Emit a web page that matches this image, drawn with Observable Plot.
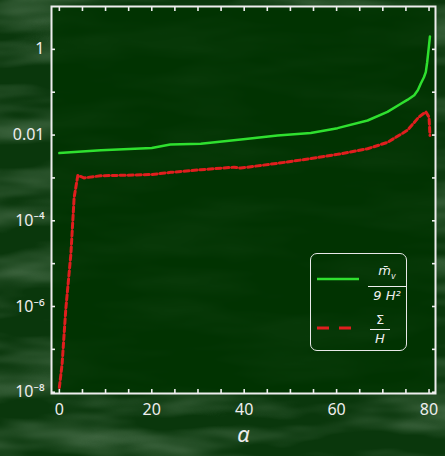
<!DOCTYPE html>
<html>
<head>
<meta charset="utf-8">
<script src="https://cdn.jsdelivr.net/npm/d3@7"></script>
<script src="https://cdn.jsdelivr.net/npm/@observablehq/plot@0.6"></script>
<style>
  html, body { margin: 0; padding: 0; background: #0b3a0d; width: 445px; height: 456px; overflow: hidden; }
  #wrap { position: relative; width: 445px; height: 456px; }
  #bg { position: absolute; left: 0; top: 0; }
  #chart { position: absolute; left: 0; top: 0; }
  #legend { position: absolute; left: 310px; top: 253px; width: 97px; height: 98px;
    border: 1.6px solid #e8e8e8; border-radius: 7px; box-sizing: border-box;
    font-family: "DejaVu Sans", sans-serif; color: #eeeeee; }
  .frac { position: absolute; text-align: center; font-style: italic; font-size: 13px; line-height: 14px; }
  .frac .bar { border-top: 1.3px solid #eee; margin: 2px 0; }
</style>
</head>
<body>
<div id="wrap">
  <svg id="bg" width="445" height="456">
    <defs>
      <filter id="noise" x="0" y="0" width="100%" height="100%">
        <feTurbulence type="fractalNoise" baseFrequency="0.008 0.035" numOctaves="3" seed="11"/>
        <feColorMatrix type="matrix" values="0 0 0 0 0.22  0 0 0 0 0.35  0 0 0 0 0.22  1.4 0 0 0 -0.55"/>
      </filter>
    </defs>
    <rect width="445" height="456" fill="#0a370c"/>
    <rect width="445" height="456" filter="url(#noise)" opacity="0.65"/>
  </svg>
  <div id="chart"></div>
  <div id="legend"></div>
</div>
<script>
// Green series: m̄_v / (9 H²)
const alphaGreen = [0, 9, 20, 24, 30.6, 40.3, 47.2, 54.4, 60.2, 66.7, 71, 73.9, 75.3, 76.8, 77.6, 78.2, 78.9, 79.3, 79.6, 79.9, 80.2];
const valGreen = [0.0038, 0.0044, 0.0050, 0.0060, 0.0063, 0.0081, 0.0098, 0.0112, 0.0145, 0.0219, 0.0347, 0.0537, 0.066, 0.0851, 0.112, 0.158, 0.224, 0.295, 0.50, 1.0, 2.0];
// Red series: Σ / H
const alphaRed = [0, 0.6, 1.4, 2.5, 3.2, 4.0, 5.3, 8.9, 20.1, 24.1, 30.6, 37.8, 39.2, 47.2, 54.4, 60.2, 66.7, 71, 75.3, 77.8, 79.3, 80, 80.2];
const valRed = [1.29e-8, 4.6e-8, 8.9e-7, 1.7e-5, 3.5e-4, 1.15e-3, 1.0e-3, 1.12e-3, 1.2e-3, 1.35e-3, 1.55e-3, 1.78e-3, 1.7e-3, 2.19e-3, 2.82e-3, 3.55e-3, 4.79e-3, 6.76e-3, 1.29e-2, 2.63e-2, 3.47e-2, 2.63e-2, 9.8e-3];
// Ticks
const xLabelTicks = [0, 20, 40, 60, 80];
const xMinorTicks = [0, 5, 10, 15, 20, 25, 30, 35, 40, 45, 50, 55, 60, 65, 70, 75, 80];
const yLabelTicks = [1, 0.01, 1e-4, 1e-6, 1e-8];
const yLabelText = ["1", "0.01", "10\u207B\u2074", "10\u207B\u2076", "10\u207B\u2078"];
const yMinorTicks = [1, 0.1, 0.01, 1e-3, 1e-4, 1e-5, 1e-6, 1e-7, 1e-8];

const green = alphaGreen.map((a, i) => ({a, v: valGreen[i]}));
const red = alphaRed.map((a, i) => ({a, v: valRed[i]}));

const ink = "#eeeeee";
const font = "Noto Sans, DejaVu Sans, sans-serif";

const plot = Plot.plot({
  width: 445, height: 456,
  marginLeft: 51, marginRight: 10, marginTop: 6, marginBottom: 63,
  style: {background: "transparent", color: ink, fontFamily: font, fontSize: "16px"},
  x: {domain: [-1.7, 81.4]},
  y: {type: "log", domain: [10 ** -8.03, 10]},
  marks: [
    Plot.frame({fill: "#003300", fillOpacity: 0.85, stroke: "none"}),
    Plot.axisX({anchor: "bottom", ticks: xMinorTicks, tickSize: -4, tickFormat: () => "", strokeWidth: 1.6, label: null}),
    Plot.axisX({anchor: "top", ticks: xMinorTicks, tickSize: -4, tickFormat: () => "", strokeWidth: 1.6, label: null}),
    Plot.axisY({anchor: "left", ticks: yMinorTicks, tickSize: -4, tickFormat: () => "", strokeWidth: 1.6, label: null}),
    Plot.axisY({anchor: "right", ticks: yMinorTicks, tickSize: -4, tickFormat: () => "", strokeWidth: 1.6, label: null}),
    Plot.axisX({anchor: "bottom", ticks: xLabelTicks, tickSize: 0, tickPadding: 10, fontSize: 16, label: "α", labelAnchor: "center", labelOffset: 48, labelArrow: "none"}),
    Plot.axisY({anchor: "left", ticks: yLabelTicks, tickSize: 0, tickPadding: 7, fontSize: 16, label: null,
      tickFormat: d => yLabelText[yLabelTicks.findIndex(t => Math.abs(Math.log10(t) - Math.log10(d)) < 1e-6)]}),
    Plot.line(red, {x: "a", y: "v", stroke: "#e01e1e", strokeWidth: 3, strokeDasharray: "5,3"}),
    Plot.line(green, {x: "a", y: "v", stroke: "#2fe02f", strokeWidth: 2.5}),
    Plot.frame({stroke: ink, strokeWidth: 2})
  ]
});
document.getElementById("chart").appendChild(plot);
d3.select(plot).selectAll("[aria-label='x-axis label'] text").style("font-style", "italic").style("font-size", "22px");

// Legend
const lg = document.getElementById("legend");
lg.innerHTML = `
  <svg width="97" height="98" style="position:absolute;left:-1.6px;top:-1.6px">
    <line x1="8" y1="27" x2="50" y2="27" stroke="#2fe02f" stroke-width="2.5"/>
    <line x1="8" y1="76" x2="44" y2="76" stroke="#e01e1e" stroke-width="3" stroke-dasharray="12,10"/>
  </svg>
  <div class="frac" style="left:57px;top:10px;width:38px;"><div>m&#772;<sub style="font-size:8px">v</sub></div><div class="bar"></div><div>9 H&sup2;</div></div>
  <div class="frac" style="left:59px;top:59px;width:20px;font-style:normal"><div>&Sigma;</div><div class="bar"></div><div style="font-style:italic">H</div></div>
`;
</script>
</body>
</html>
